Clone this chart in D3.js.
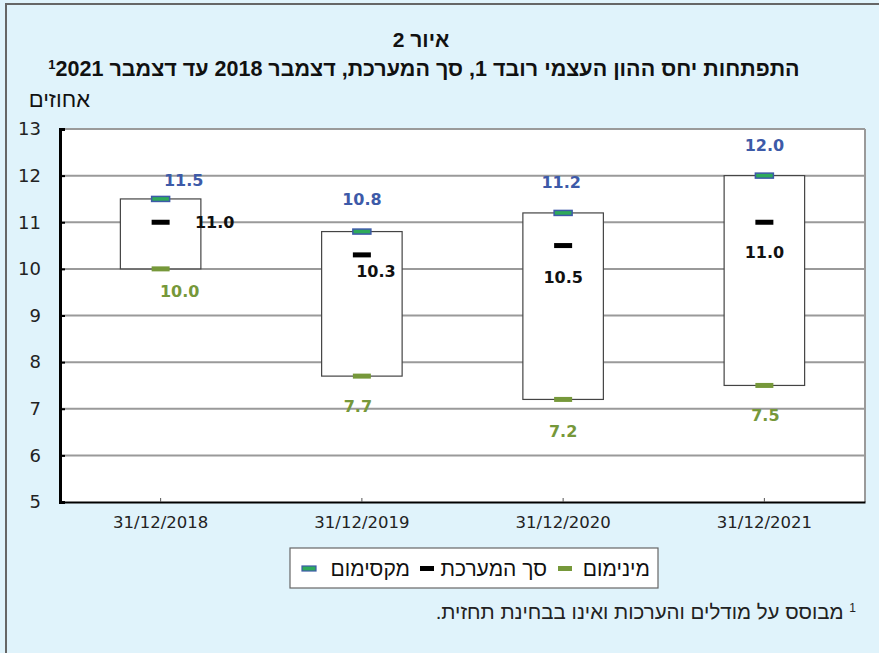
<!DOCTYPE html>
<html>
<head>
<meta charset="utf-8">
<script src="https://cdn.jsdelivr.net/npm/d3@7"></script>
<style>
  body { margin: 0; background: #e0f3fb; }
  svg { display: block; }
</style>
</head>
<body>
<div id="chart"></div>
<script>
var w = 879;
var h = 653;

// data
var categories = ["31/12/2018", "31/12/2019", "31/12/2020", "31/12/2021"];
var maxValues = [11.5, 10.8, 11.2, 12.0];
var meanValues = [11.0, 10.3, 10.5, 11.0];
var minValues = [10.0, 7.7, 7.2, 7.5];
var yTicks = [5, 6, 7, 8, 9, 10, 11, 12, 13];
var legendNames = ["מינימום", "סך המערכת", "מקסימום"];

// label placement (px from the marker), kept apart from the data
var maxLabelOff = [[23, -19], [0, -32], [-2, -31], [0, -30]];
var meanLabelOff = [[54, 0], [14, 17], [0, 32], [0, 30]];
var minLabelOff = [[19, 23], [-4, 30], [0, 32], [1, 30]];

var blue = "#3d5aa8", green = "#76983a", midGreen = "#2eaa5a";
var hebFont = "Liberation Sans, Arial, sans-serif";

var margin = {top: 129, right: 14, bottom: 151, left: 60},
    width = w - margin.left - margin.right,
    height = h - margin.top - margin.bottom;

var svg = d3.select("#chart").append("svg")
    .attr("width", w)
    .attr("height", h);

// frame
svg.append("rect").attr("x", 6).attr("y", 4).attr("width", w + 10).attr("height", h + 10)
    .attr("fill", "#e0f3fb").attr("stroke", "#666").attr("stroke-width", 2);

// titles
svg.append("text")
    .attr("x", 421).attr("y", 47)
    .attr("text-anchor", "middle").attr("direction", "rtl")
    .style("font-family", hebFont)
    .style("font-weight", "bold").style("font-size", "21px").attr("fill", "#111")
    .text("איור 2");

var t2 = svg.append("text")
    .attr("x", 424).attr("y", 76)
    .attr("text-anchor", "middle").attr("direction", "rtl")
    .style("font-family", hebFont)
    .style("font-weight", "bold").style("font-size", "21.5px").attr("fill", "#111");
t2.append("tspan").text("התפתחות יחס ההון העצמי רובד 1, סך המערכת, דצמבר 2018 עד דצמבר 2021\u200F");
t2.append("tspan").attr("baseline-shift", "super").style("font-size", "13px").text("\u200F1");

svg.append("text")
    .attr("x", 90).attr("y", 107)
    .attr("text-anchor", "start").attr("direction", "rtl")
    .style("font-family", hebFont).style("font-size", "22px").attr("fill", "#111")
    .text("אחוזים");

var g = svg.append("g")
    .attr("transform", "translate(" + margin.left + "," + margin.top + ")");

var x = d3.scaleBand().domain(categories).range([0, width]);
var y = d3.scaleLinear().domain([5, 13]).range([height, 0]);

// plot background
g.append("rect").attr("width", width).attr("height", height).attr("fill", "#fff");

// gridlines
g.selectAll(".grid").data(yTicks.slice(1)).enter().append("line")
    .attr("x1", 0).attr("x2", width)
    .attr("y1", function(d) { return y(d); }).attr("y2", function(d) { return y(d); })
    .attr("stroke", "#9a9a9a").attr("stroke-width", 2);
g.append("line").attr("x1", width).attr("x2", width).attr("y1", 0).attr("y2", height)
    .attr("stroke", "#9a9a9a").attr("stroke-width", 2);

// axes
var yAxis = g.append("g")
    .call(d3.axisLeft(y).tickValues(yTicks).tickSize(-5).tickPadding(19).tickFormat(d3.format("d")));
yAxis.select(".domain").attr("stroke", "#000").attr("stroke-width", 3);
yAxis.selectAll(".tick line").attr("stroke", "#000").attr("stroke-width", 2);
yAxis.selectAll("text").style("font-family", "DejaVu Sans, sans-serif").style("font-size", "18px").attr("fill", "#222");

var xAxis = g.append("g")
    .attr("transform", "translate(0," + height + ")")
    .call(d3.axisBottom(x).tickSize(-4).tickPadding(14).tickSizeOuter(0));
xAxis.select(".domain").attr("stroke", "#000").attr("stroke-width", 2);
xAxis.selectAll(".tick line").attr("stroke", "#555");
xAxis.selectAll("text").style("font-family", "DejaVu Sans, sans-serif").style("font-size", "16.5px").attr("fill", "#222");

// boxes
var boxW = x.bandwidth() * 0.4;
var cx = function(i) { return x(categories[i]) + x.bandwidth() / 2; };

g.selectAll(".box").data(categories).enter().append("rect")
    .attr("x", function(d, i) { return cx(i) - boxW / 2; })
    .attr("y", function(d, i) { return y(maxValues[i]); })
    .attr("width", boxW)
    .attr("height", function(d, i) { return y(minValues[i]) - y(maxValues[i]); })
    .attr("fill", "#fff").attr("stroke", "#444").attr("stroke-width", 1.2);

// markers
var mW = 18;
g.selectAll(".maxm").data(maxValues).enter().append("rect")
    .attr("x", function(d, i) { return cx(i) - mW / 2; })
    .attr("y", function(d) { return y(d) - 2.5; })
    .attr("width", mW).attr("height", 5)
    .attr("fill", midGreen).attr("stroke", blue).attr("stroke-width", 1.5);
g.selectAll(".meanm").data(meanValues).enter().append("rect")
    .attr("x", function(d, i) { return cx(i) - mW / 2; })
    .attr("y", function(d) { return y(d) - 2.5; })
    .attr("width", mW).attr("height", 5).attr("fill", "#000");
g.selectAll(".minm").data(minValues).enter().append("rect")
    .attr("x", function(d, i) { return cx(i) - mW / 2; })
    .attr("y", function(d) { return y(d) - 2.5; })
    .attr("width", mW).attr("height", 5).attr("fill", green);

// value labels
function addLabels(values, offs, color) {
  g.selectAll(null).data(values).enter().append("text")
      .attr("x", function(d, i) { return cx(i) + offs[i][0]; })
      .attr("y", function(d, i) { return y(d) + offs[i][1]; })
      .attr("dy", "0.35em")
      .attr("text-anchor", "middle")
      .style("font-family", "DejaVu Sans, sans-serif").style("font-weight", "bold").style("font-size", "16px")
      .attr("fill", color)
      .text(function(d) { return d3.format(".1f")(d); });
}
addLabels(maxValues, maxLabelOff, blue);
addLabels(meanValues, meanLabelOff, "#111");
addLabels(minValues, minLabelOff, green);

// legend
var lg = svg.append("g");
lg.append("rect").attr("x", 290).attr("y", 548).attr("width", 368).attr("height", 40)
    .attr("fill", "#fff").attr("stroke", "#666").attr("stroke-width", 1.2);
var legItems = [
  {name: legendNames[0], tx: 650, mx: 558, fill: green, stroke: "none"},
  {name: legendNames[1], tx: 547, mx: 420, fill: "#000", stroke: "none"},
  {name: legendNames[2], tx: 410, mx: 302, fill: midGreen, stroke: blue}
];
legItems.forEach(function(d) {
  lg.append("rect").attr("x", d.mx).attr("y", 566).attr("width", 14).attr("height", 5)
      .attr("fill", d.fill).attr("stroke", d.stroke).attr("stroke-width", 1.2);
  lg.append("text").attr("x", d.tx).attr("y", 576)
      .attr("direction", "rtl").attr("text-anchor", "start")
      .style("font-family", hebFont).style("font-size", "21px").attr("fill", "#111")
      .text(d.name);
});

// footnote
var fn = svg.append("text")
    .attr("x", 856).attr("y", 619)
    .attr("direction", "rtl").attr("text-anchor", "start")
    .style("font-family", hebFont).style("font-size", "20.5px").attr("fill", "#222");
fn.append("tspan").attr("baseline-shift", "super").style("font-size", "12px").text("1");
fn.append("tspan").text(" מבוסס על מודלים והערכות ואינו בבחינת תחזית.");
</script>
</body>
</html>
